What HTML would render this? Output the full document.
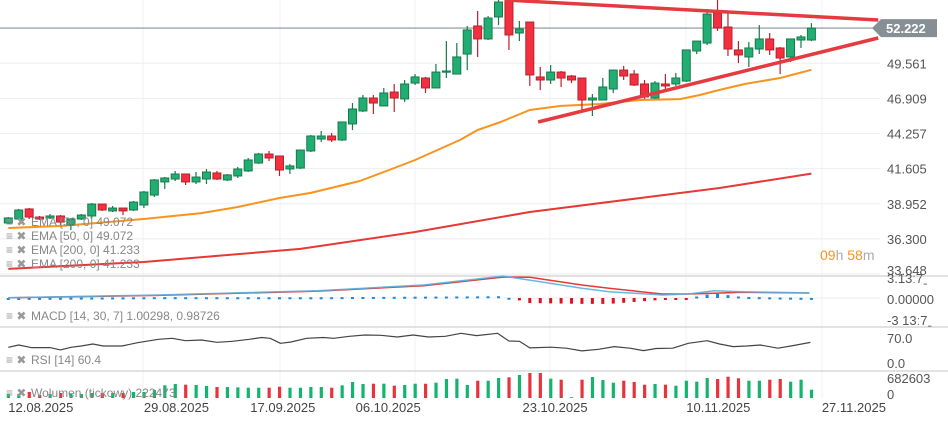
<!DOCTYPE html>
<html><head><meta charset="utf-8"><style>
html,body{margin:0;padding:0;background:#fff;}
svg{display:block;font-family:"Liberation Sans",sans-serif;}
</style></head><body>
<svg id="chart" width="948" height="424" viewBox="0 0 948 424" xmlns="http://www.w3.org/2000/svg">
<g id="grid"></g>
<g id="main"></g>
<g id="macd"></g>
<g id="rsi"></g>
<g id="vol"></g>
<g id="axes"></g>
<g id="legend" font-size="12" fill="#888">
  <g><text x="6" y="226" fill="#999">≡ ✖</text><text x="31" y="226">EMA [50, 0] 49.072</text></g>
  <g><text x="6" y="240" fill="#999">≡ ✖</text><text x="31" y="240">EMA [50, 0] 49.072</text></g>
  <g><text x="6" y="254" fill="#999">≡ ✖</text><text x="31" y="254">EMA [200, 0] 41.233</text></g>
  <g><text x="6" y="268" fill="#999">≡ ✖</text><text x="31" y="268">EMA [200, 0] 41.233</text></g>
  <g><text x="6" y="320" fill="#999">≡ ✖</text><text x="31" y="320">MACD [14, 30, 7] 1.00298, 0.98726</text></g>
  <g><text x="6" y="364" fill="#999">≡ ✖</text><text x="31" y="364">RSI [14] 60.4</text></g>
  <g><text x="6" y="397" fill="#999">≡ ✖</text><text x="31" y="397">Wolumen (tickowy) 222473</text></g>
</g>
<text x="820" y="260" font-size="14"><tspan fill="#f7941d">09</tspan><tspan fill="#aaa">h </tspan><tspan fill="#f7941d">58</tspan><tspan fill="#aaa">m</tspan></text>
</svg>
<script>
const opens=[37.50,37.80,38.56,37.95,37.88,38.03,37.35,37.80,38.03,38.93,38.41,38.63,38.48,38.86,39.61,40.60,40.82,41.20,40.60,40.82,41.28,40.75,41.05,41.43,42.03,42.71,42.56,41.58,41.65,42.94,43.84,44.07,43.77,44.98,45.96,46.94,46.34,47.39,46.87,48.07,48.45,47.70,48.90,48.75,50.26,52.38,51.40,53.06,54.34,51.85,52.68,48.53,48.30,48.90,48.60,48.45,46.79,46.79,47.62,49.05,48.75,48.00,46.94,48.00,48.00,48.22,50.49,51.09,53.36,52.30,50.57,50.04,50.64,51.40,50.72,50.04,51.32,51.32];
const highs=[37.95,38.56,38.63,38.03,38.18,38.10,37.88,38.18,39.01,38.93,38.78,38.63,39.16,39.92,40.82,40.97,41.43,41.20,41.35,41.58,41.43,41.20,41.73,42.41,42.79,42.94,42.56,41.96,43.01,44.15,44.45,44.30,45.13,46.56,47.17,47.17,47.70,48.00,48.30,48.75,48.53,49.51,51.24,51.09,52.38,53.51,53.13,54.34,54.34,52.76,52.68,49.28,49.43,48.98,48.68,48.45,47.24,48.45,49.05,49.36,49.05,48.30,48.22,48.75,48.83,50.57,51.24,53.66,54.34,53.44,51.24,51.17,52.45,51.85,50.79,51.40,51.70,52.60];
const lows=[37.43,37.73,37.80,37.73,37.80,37.35,36.97,37.73,37.88,38.41,38.33,38.10,38.41,38.63,39.46,40.07,40.67,40.37,40.44,40.44,40.75,40.67,40.90,41.35,41.96,42.18,41.05,41.20,41.58,42.86,43.62,43.62,43.69,44.52,45.88,45.73,46.34,45.88,46.64,47.92,47.32,47.70,48.45,48.75,49.05,50.04,51.32,52.45,50.57,51.24,47.85,47.54,48.00,47.77,48.07,46.03,45.58,46.79,47.32,48.30,47.85,46.87,46.87,47.62,47.85,48.15,50.26,50.94,52.00,50.11,49.58,49.28,50.26,50.19,48.75,49.66,50.72,51.24];
const closes=[37.88,38.48,37.95,37.80,38.03,37.57,37.80,38.10,38.93,38.48,38.63,38.41,39.08,39.84,40.75,40.90,41.20,40.60,40.97,41.35,40.82,41.13,41.58,42.26,42.71,42.41,41.50,41.81,43.01,44.07,44.07,43.77,45.13,46.11,46.94,46.56,47.32,46.94,48.00,48.53,47.70,48.90,48.98,50.04,52.08,51.40,52.98,54.19,51.70,52.15,48.68,48.30,48.90,48.45,48.30,46.79,46.94,47.77,49.05,48.60,47.92,47.02,48.07,47.85,48.45,50.57,51.24,53.28,52.23,50.64,50.19,50.72,51.40,50.57,49.96,51.40,51.55,52.22];
const volumes=[109,109,164,82,109,137,109,109,137,137,137,137,164,164,218,347,382,363,355,328,300,300,290,281,281,281,308,281,281,300,300,281,347,437,382,390,390,336,355,390,390,418,519,527,355,472,472,546,565,628,683,683,527,500,19,500,573,491,418,472,437,363,382,363,336,472,445,546,519,581,538,472,472,500,519,445,500,227];
const ema50Idx=[0,5,13,18.5,22,26,29,33.7,36,39,43.3,45,47.2,50,53,56.7,60.6,64.4,66.3,68.2,70.6,74,77];
const ema50Val=[37.12,37.27,37.80,38.25,38.71,39.39,39.77,40.67,41.35,42.26,43.77,44.52,45.13,46.03,46.34,46.49,46.79,46.86,47.17,47.55,48.00,48.45,49.07];
const ema200Idx=[0,13,28,39,50,60.6,68.2,77];
const ema200Val=[34.03,34.55,35.54,36.82,38.33,39.39,40.14,41.23];
const macdIdx=[0,14.4,29.7,39.8,47.4,50,55,57.6,62.7,65.2,67.7,70.3,76.8];
const macdVal=[0.06,0.59,1.43,2.55,4.3,3.5,1.9,1.24,0.59,0.78,1.43,1.24,1.00];
const signalVal=[0.06,0.50,1.35,2.40,4.1,4.06,2.55,1.9,0.78,0.78,0.92,1.12,0.99];
const rsiIdx=[0,1,2.2,4,5,6,7,8.1,9.1,10.9,12.4,14.4,15.7,17,18.5,20,21.5,23.1,24.3,25.1,26.1,27.1,28.6,30.2,31.2,32.7,34.2,35.7,37.3,38.8,40.3,41.9,43.4,44.9,46.9,48,49,50,52,53.5,55,56.6,58.1,59.6,60.9,62.1,63.7,65.2,67,68.2,69.5,70.8,72.1,73.8,75.3,76.9];
const rsiVal=[46.7,53.2,46.0,46.0,39.5,46.7,50.4,56.0,50.4,50.4,59.7,69.1,71.9,65.3,67.2,60.7,63.5,69.1,74.3,71.9,57.9,61.6,71.9,74.3,71.9,77.5,81.3,80.3,75.6,81.3,75.6,77.5,85.9,79.4,85.9,64.4,63.5,45.1,47.0,44.2,36.7,41.3,48.8,44.2,37.6,43.3,44.2,57.9,65.3,55.9,48.8,50.4,53.2,44.2,51.7,60.4];
const priceTicks=[49.561,46.909,44.257,41.605,38.952,36.300,33.648];
const dateLabels=["12.08.2025","29.08.2025","17.09.2025","06.10.2025","23.10.2025","10.11.2025","27.11.2025"];
const dateIdx=[0,13,23.2,33.3,49.3,65,78];
const upperTrendIdx=[47.6,83.4], upperTrendVal=[54.34,52.83];
const lowerTrendIdx=[50.8,83.4], lowerTrendVal=[45.13,51.47];
const lastPrice=52.222;

const NS="http://www.w3.org/2000/svg";
const xOf=i=>8.3+i*10.43;
const yP=v=>(54.342-v)/0.07553;
const yM=v=>298-v*5.1;
const yH=v=>298-v*9;
const yR=v=>364-v*25/70;
const yV=v=>398-v/682.6*25;
function mk(tag,attrs,parent){const e=document.createElementNS(NS,tag);for(const k in attrs)e.setAttribute(k,attrs[k]);parent.appendChild(e);return e;}
const G=document.getElementById('grid'),M=document.getElementById('main'),MC=document.getElementById('macd'),R=document.getElementById('rsi'),V=document.getElementById('vol'),A=document.getElementById('axes');

priceTicks.forEach((t,i)=>{
  const l=mk('line',{x1:0,x2:880,y1:yP(t),y2:yP(t),stroke:'#eeeeee','stroke-width':1},G);
  
  
  if(i<6){const tx=mk('text',{x:887,y:yP(t)+5,'font-size':13,fill:'#555'},A);tx.textContent=t.toFixed(3);
  
  }
});
[143,280,415,550,686,822].forEach(x=>{const l=mk('line',{x1:x,x2:x,y1:0,y2:398,stroke:'#f0f0f0'},G);
  
  });
[276,327,371].forEach(y=>{const l=mk('line',{x1:0,x2:948,y1:y,y2:y,stroke:'#d8d8d8','stroke-width':1.5},G);
  
  });
[[283,'3.13\u02d07\u02cd'],[304,'0.00000'],[325,'-3 13\u02d07\u02cd'],[343,'70.0'],[368,'0.0'],[383,'682603'],[399,'0']].forEach(([y,t])=>{
  const tx=mk('text',{x:887,y:y,'font-size':13,fill:'#555'},A);tx.textContent=t;
  
  });
const lbl33=mk('text',{x:887,y:275,'font-size':13,fill:'#555'},A);lbl33.textContent='33.648';


dateLabels.forEach((d,i)=>{const tx=mk('text',{x:xOf(dateIdx[i]),y:412,'font-size':13,fill:'#444'},A);tx.textContent=d;
  
  });

const defs=mk('defs',{},document.getElementById('chart'));
const cp=mk('clipPath',{id:'mc'},defs);mk('rect',{x:0,y:0,width:880,height:276},cp);
M.setAttribute('clip-path','url(#mc)');

function poly(idx,vals,yf,attrs,parent,name){
  const p=idx.map((i,k)=>xOf(i).toFixed(1)+','+yf(vals[k]).toFixed(1)).join(' ');
  const e=mk('polyline',Object.assign({points:p,fill:'none','stroke-linejoin':'round'},attrs),parent);
  
  
  return e;
}
poly(ema200Idx,ema200Val,yP,{stroke:'#e53935','stroke-width':2},M,'ema200-line');
poly(ema50Idx,ema50Val,yP,{stroke:'#f7941d','stroke-width':2},M,'ema50-line');
const lp=mk('line',{x1:0,x2:880,y1:yP(lastPrice),y2:yP(lastPrice),stroke:'#8a9296','stroke-width':1.2},M);


opens.forEach((o,i)=>{
  const c=closes[i],up=c>=o,x=xOf(i);
  const fill=up?'#22ae72':'#f2303f',st=up?'#157a4c':'#b8202e';
  const g=mk('g',{},M);
  
  
  mk('line',{x1:x,x2:x,y1:yP(highs[i]),y2:yP(lows[i]),stroke:st,'stroke-width':1.2},g);
  const top=yP(Math.max(o,c)),bot=yP(Math.min(o,c));
  mk('rect',{x:x-4,y:top,width:8,height:Math.max(1.2,bot-top),fill:fill,stroke:st,'stroke-width':1},g);
});
poly(upperTrendIdx,upperTrendVal,yP,{stroke:'#e53a40','stroke-width':3.5},M,'upper-trendline');
poly(lowerTrendIdx,lowerTrendVal,yP,{stroke:'#e53a40','stroke-width':3.5},M,'lower-trendline');
const by=yP(lastPrice);
const badge=mk('g',{},A);


mk('polygon',{points:`872,${by} 881,${by-9} 937,${by-9} 937,${by+9} 881,${by+9}`,fill:'#868f94'},badge);
const bt=mk('text',{x:886,y:by+5,'font-size':13,fill:'#fff','font-weight':'bold'},badge);bt.textContent=lastPrice.toFixed(3);

mk('line',{x1:0,x2:880,y1:298,y2:298,stroke:'#eee'},MC);
for(let i=0;i<78;i++){
  let k=0;while(k<macdIdx.length-2&&macdIdx[k+1]<i)k++;
  const t=Math.min(1,Math.max(0,(i-macdIdx[k])/(macdIdx[k+1]-macdIdx[k])));
  const d=(macdVal[k]+(macdVal[k+1]-macdVal[k])*t)-(signalVal[k]+(signalVal[k+1]-signalVal[k])*t);
  const y0=298,y1=yH(d);
  const r=mk('rect',{x:xOf(i)-1.5,y:Math.min(y0,y1),width:3,height:Math.max(2,Math.abs(y1-y0)),fill:d>=0?'#1e88d8':'#d9141e'},MC);
  
  
}
poly(macdIdx,signalVal,yM,{stroke:'#e53935','stroke-width':1.5},MC,'macd-signal-line');
poly(macdIdx,macdVal,yM,{stroke:'#5aaee0','stroke-width':1.5,'stroke-opacity':0.9},MC,'macd-line');

poly(rsiIdx,rsiVal,yR,{stroke:'#444','stroke-width':1.2},R,'rsi-line');

volumes.forEach((v,i)=>{
  const up=closes[i]>=opens[i];
  const r=mk('rect',{x:xOf(i)-1.5,y:yV(v),width:3.2,height:398-yV(v),fill:up?'#14b46e':'#e8323c'},V);
  
  
});
</script>
</body></html>
